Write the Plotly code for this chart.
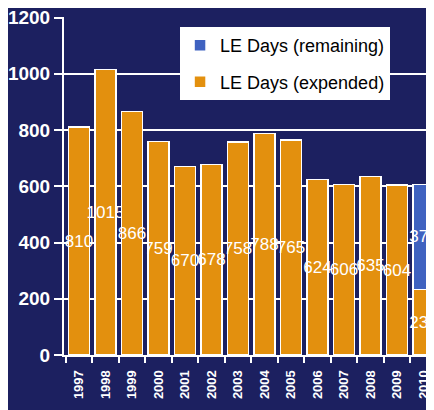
import plotly.graph_objects as go

years = [str(y) for y in range(1997, 2011)]
expended = [810, 1015, 866, 759, 670, 678, 758, 788, 765, 624, 606, 635, 604, 233]
remaining = [None] * 13 + [374]

NAVY = "#1c2060"
FONT = "Liberation Sans Narrow, Arial Narrow, Liberation Sans, Arial"

fig = go.Figure()

# Expended days (orange)
fig.add_trace(go.Bar(
    x=years,
    y=expended,
    name="LE Days (expended)",
    legendgroup="exp",
    legendrank=2,
    marker=dict(color="#e3900e", line=dict(color="white", width=1.5)),
    text=[str(v) for v in expended],
    textposition="inside",
    insidetextanchor="middle",
    textangle=0,
    constraintext="none",
    textfont=dict(color="white", size=17, family=FONT),
))

# Remaining days (blue)
fig.add_trace(go.Bar(
    x=years,
    y=remaining,
    name="LE Days (remaining)",
    legendgroup="rem",
    legendrank=1,
    marker=dict(color="#3f62c0", line=dict(color="white", width=1.5)),
    text=["" if v is None else str(v) for v in remaining],
    textposition="inside",
    insidetextanchor="middle",
    textangle=0,
    constraintext="none",
    textfont=dict(color="white", size=17, family=FONT),
))

# page body has an 8px margin, so the plot is shifted up/left by 8px
fig.update_layout(
    width=434,
    height=410,
    barmode="stack",
    bargap=0.2,
    paper_bgcolor=NAVY,
    plot_bgcolor=NAVY,
    margin=dict(l=56, r=0, t=9, b=63, autoexpand=False),
    font=dict(family=FONT, color="white"),
    legend=dict(
        x=0.307, y=0.97,
        xanchor="left", yanchor="top",
        bgcolor="white",
        font=dict(color="black", size=18, family=FONT),
        traceorder="grouped",
        itemwidth=30,
        tracegroupgap=10,
    ),
    showlegend=True,
)

fig.update_xaxes(
    type="category",
    range=[-0.566, 13.7],
    automargin=False,
    tickangle=-90,
    tickson="boundaries",
    ticks="outside",
    ticklen=6,
    tickcolor="white",
    tickwidth=2,
    ticklabelstandoff=8,
    showline=True,
    linecolor="white",
    linewidth=2,
    showgrid=False,
    tickfont=dict(size=13, color="white", family=FONT, weight="bold"),
)

fig.update_yaxes(
    range=[0, 1202],
    tickvals=[0, 200, 400, 600, 800, 1000, 1200],
    automargin=False,
    ticks="outside",
    ticklen=8,
    tickcolor="white",
    tickwidth=2,
    ticklabeloverflow="allow",
    showline=True,
    linecolor="white",
    linewidth=2,
    showgrid=True,
    gridcolor="white",
    gridwidth=2,
    zeroline=False,
    tickfont=dict(size=19, color="white", family=FONT, weight="bold"),
)

fig.write_html("out.html")
